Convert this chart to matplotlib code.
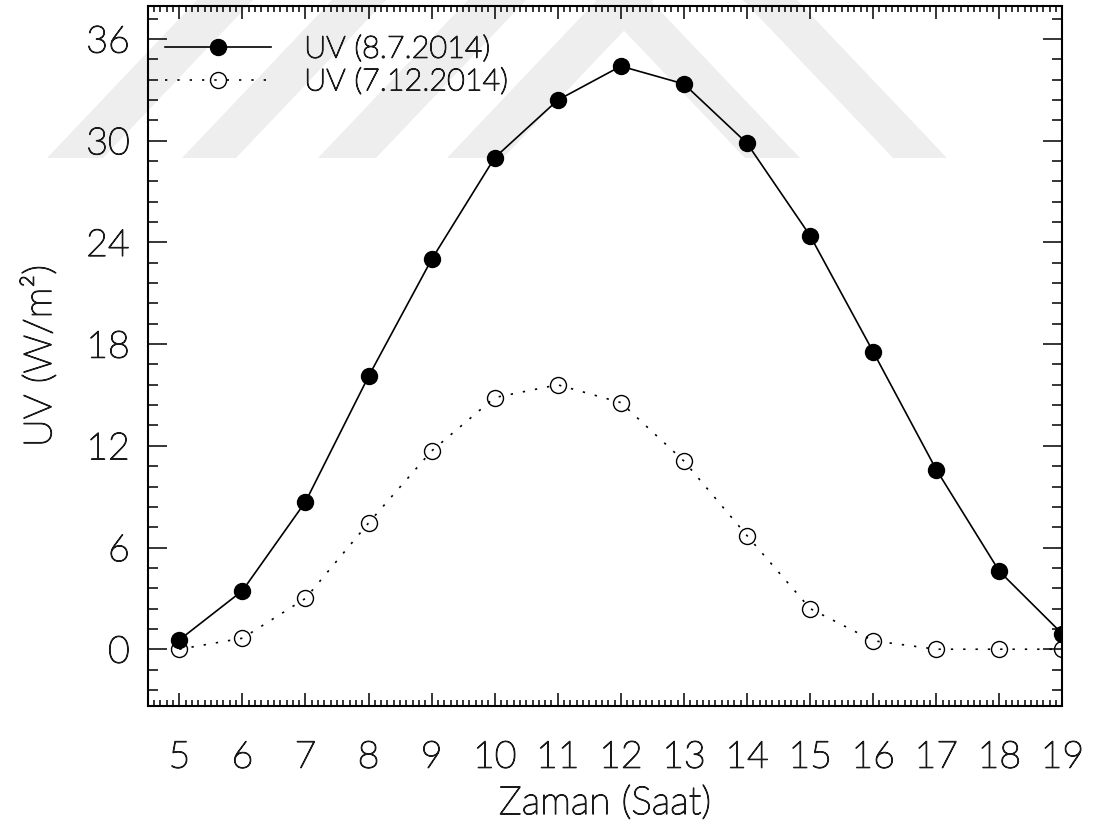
import matplotlib
matplotlib.use("Agg")
import matplotlib.pyplot as plt
import matplotlib.patheffects as pe
from matplotlib.patches import Polygon
from matplotlib.ticker import MultipleLocator, FixedLocator

# Hourly UV irradiance for two days
hours = [5, 6, 7, 8, 9, 10, 11, 12, 13, 14, 15, 16, 17, 18, 19]
uv_summer = [0.55, 3.45, 8.7, 16.1, 23.0, 29.0, 32.4, 34.4, 33.35, 29.85,
             24.4, 17.55, 10.6, 4.6, 0.9]
uv_winter = [0.0, 0.65, 3.0, 7.45, 11.7, 14.85, 15.6, 14.55, 11.1, 6.7,
             2.4, 0.5, 0.0, 0.0, 0.0]
label_summer = "UV (8.7.2014)"
label_winter = "UV (7.12.2014)"
y_ticks = [0, 6, 12, 18, 24, 30, 36]

plt.rcParams["font.family"] = ["Lato", "DejaVu Sans"]
plt.rcParams["font.weight"] = "light"
plt.rcParams["axes.labelweight"] = "light"
TXT = "#1a1a1a"
THICK = [pe.withStroke(linewidth=0.9, foreground=TXT)]

W, H = 1098, 827
fig = plt.figure(figsize=(W / 100, H / 100), dpi=100)
fig.patch.set_facecolor("white")


def px(x, y):
    return (x / W, 1 - y / H)


# light grey diagonal stripes in the page background
s, top, bot = 0.95, -20, 158
for x0, w in [(47, 56), (182, 54), (318, 58), (447, 56)]:
    d = s * (bot - top)
    pts = [px(x0, bot), px(x0 + w, bot), px(x0 + w + d, top), px(x0 + d, top)]
    fig.add_artist(Polygon(pts, closed=True, transform=fig.transFigure,
                           facecolor="#eeeeee", edgecolor="none", zorder=-5))
for xr, w in [(800, 55), (947, 54)]:
    d = s * (bot - top)
    pts = [px(xr - w, bot), px(xr, bot), px(xr - d, top), px(xr - w - d, top)]
    fig.add_artist(Polygon(pts, closed=True, transform=fig.transFigure,
                           facecolor="#eeeeee", edgecolor="none", zorder=-5))

left, right, ytop, ybot = 147.8, 1062.4, 6, 706
ax = fig.add_axes([left / W, 1 - ybot / H, (right - left) / W, (ybot - ytop) / H])
ax.set_facecolor("none")

ax.plot(hours, uv_winter, color="black", lw=1.2, linestyle=(0, (1.4, 6.0)),
        marker="o", markersize=11.5, markerfacecolor="none",
        markeredgecolor="black", markeredgewidth=1.0, label=label_winter)
ax.plot(hours, uv_summer, color="black", lw=1.2, linestyle="-",
        marker="o", markersize=11.5, markerfacecolor="black",
        markeredgecolor="black", label=label_summer)

ax.set_xlim(4.5, 19)
ax.set_ylim(-3.35, 37.95)
ax.xaxis.set_major_locator(FixedLocator(hours))
ax.xaxis.set_minor_locator(MultipleLocator(0.1))
ax.yaxis.set_major_locator(FixedLocator(y_ticks))
ax.yaxis.set_minor_locator(MultipleLocator(1.2))

for sp in ax.spines.values():
    sp.set_linewidth(1.5)

ax.tick_params(which="both", direction="in", top=True, right=True,
               width=1.1, colors="black", labelcolor=TXT, labelsize=27)
ax.tick_params(axis="x", which="major", length=9.4, pad=25)
ax.tick_params(axis="x", which="minor", length=4.4)
ax.tick_params(axis="y", which="major", length=13.7, pad=13)
ax.tick_params(axis="y", which="minor", length=7)

ax.set_xlabel("Zaman (Saat)", fontsize=28, color=TXT)
ax.set_ylabel("UV (W/m²)", fontsize=28, color=TXT)
ax.xaxis.set_label_coords(0.5, -0.113)
ax.yaxis.set_label_coords(-0.098, 0.5)

handles, labels = ax.get_legend_handles_labels()
leg = ax.legend(handles[::-1], labels[::-1], loc="upper left",
                bbox_to_anchor=(0.019, 0.959), frameon=False, fontsize=22,
                handlelength=3.45, handletextpad=1.1, borderpad=0,
                borderaxespad=0, labelspacing=0.12, numpoints=1)
for t in leg.get_texts():
    t.set_color(TXT)

texts = (ax.get_xticklabels() + ax.get_yticklabels() + leg.get_texts()
         + [ax.xaxis.label, ax.yaxis.label])
for t in texts:
    t.set_path_effects(THICK)

fig.savefig("out.png", dpi=100, facecolor="white")
